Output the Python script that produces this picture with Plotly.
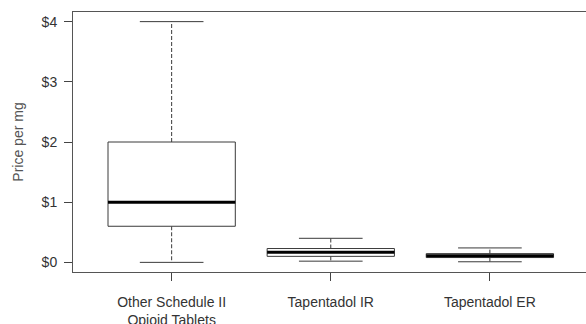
import plotly.graph_objects as go

categories = ["Other Schedule II<br>Opioid Tablets", "Tapentadol IR", "Tapentadol ER"]
lower_whisker = [0.0, 0.02, 0.01]
q1 = [0.60, 0.10, 0.08]
median = [1.00, 0.17, 0.11]
q3 = [2.00, 0.23, 0.145]
upper_whisker = [4.0, 0.40, 0.24]
y_ticks = [0, 1, 2, 3, 4]
y_tick_labels = ["$0", "$1", "$2", "$3", "$4"]

BOX_HALF = 0.4
CAP_HALF = 0.2
LINE = "#3a3a3a"

fig = go.Figure()
for i, cat in enumerate(categories):
    x = i + 1
    # whiskers (dashed)
    fig.add_trace(go.Scatter(x=[x, x, None, x, x], y=[q3[i], upper_whisker[i], None, q1[i], lower_whisker[i]],
                             mode="lines", line=dict(color=LINE, width=1, dash="4px,2px"),
                             hoverinfo="skip", showlegend=False))
    # caps
    fig.add_trace(go.Scatter(x=[x - CAP_HALF, x + CAP_HALF, None, x - CAP_HALF, x + CAP_HALF],
                             y=[upper_whisker[i], upper_whisker[i], None, lower_whisker[i], lower_whisker[i]],
                             mode="lines", line=dict(color=LINE, width=1),
                             hoverinfo="skip", showlegend=False))
    # box
    fig.add_trace(go.Scatter(x=[x - BOX_HALF, x + BOX_HALF, x + BOX_HALF, x - BOX_HALF, x - BOX_HALF],
                             y=[q1[i], q1[i], q3[i], q3[i], q1[i]],
                             mode="lines", fill="toself", fillcolor="white",
                             line=dict(color=LINE, width=1),
                             hoverinfo="skip", showlegend=False))
    # median
    fig.add_trace(go.Scatter(x=[x - BOX_HALF, x + BOX_HALF], y=[median[i], median[i]],
                             mode="lines", line=dict(color="black", width=3),
                             hoverinfo="skip", showlegend=False))

fig.update_layout(
    width=586, height=324,
    margin=dict(l=73, r=0, t=12, b=52, autoexpand=False),
    paper_bgcolor="white", plot_bgcolor="white",
    font=dict(family="Liberation Sans, Arial, sans-serif", size=14, color="#333333"),
    showlegend=False,
    xaxis=dict(range=[0.38, 3.604], tickmode="array", tickvals=[1, 2, 3], ticktext=categories,
               showgrid=False, zeroline=False, showline=True, mirror=True, linecolor="#555555", linewidth=1,
               ticks="outside", ticklen=8, tickcolor="#444444", tickfont=dict(size=14, color="#333333"),
               ticklabelstandoff=9, automargin=False),
    yaxis=dict(range=[-0.16, 4.16], tickmode="array", tickvals=y_ticks, ticktext=y_tick_labels,
               showgrid=False, zeroline=False, showline=True, linecolor="#555555", linewidth=1,
               ticks="outside", ticklen=8, tickcolor="#444444", tickfont=dict(size=14, color="#333333"),
               ticklabelstandoff=4, automargin=False,
               title=dict(text="Price per mg", font=dict(size=14, color="#555555"), standoff=14)),
)

fig.write_html("out.html", config={"displayModeBar": False},
               post_script="document.body.style.margin='0';document.body.style.overflow='hidden';")
